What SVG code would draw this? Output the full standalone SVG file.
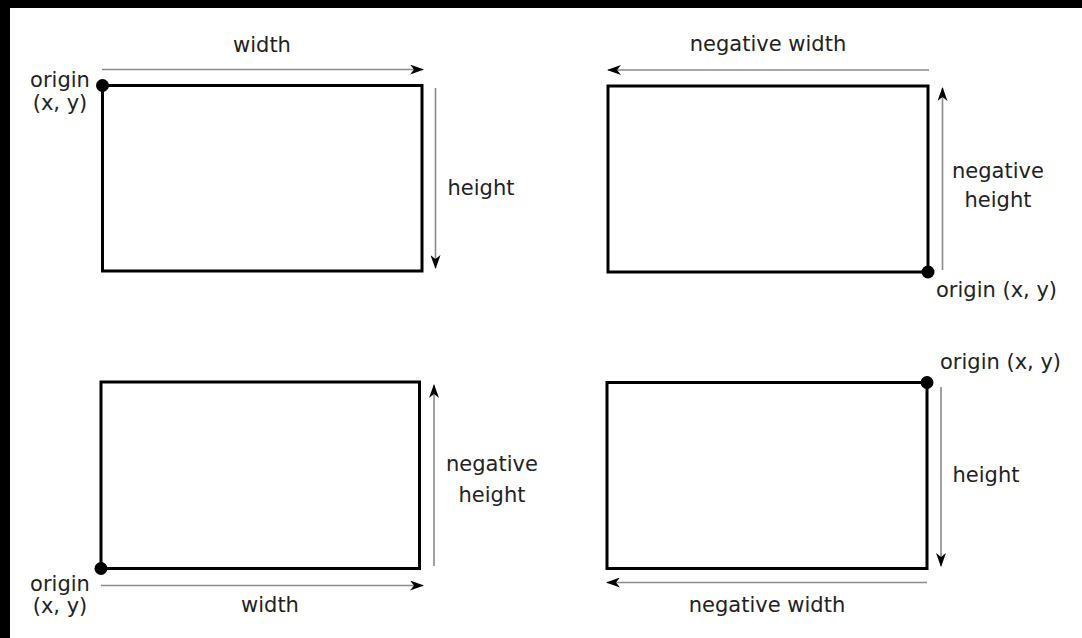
<svg xmlns="http://www.w3.org/2000/svg" width="1082" height="638" viewBox="0 0 1082 638">
  <style>
    .box { fill: none; stroke: #000; stroke-width: 3; }
    .dim { stroke: #8a8a8a; stroke-width: 1.6; fill: none; marker-end: url(#ah); }
    .dot { fill: #000; }
    text { font-family: "DejaVu Sans", "Liberation Sans", sans-serif; font-size: 21px; fill: #222; }
    .c { text-anchor: middle; }
  </style>
  <defs>
    <marker id="ah" viewBox="0 0 14 10" refX="13" refY="5" markerWidth="14" markerHeight="10" markerUnits="userSpaceOnUse" orient="auto">
      <path d="M0,0 L14,5 L0,10 L4,5 Z" fill="#000"/>
    </marker>
  </defs>
  <rect x="0" y="0" width="1082" height="638" fill="#fff"/>
  <rect x="0" y="0" width="1082" height="8" fill="#000"/>
  <rect x="0" y="0" width="10" height="638" fill="#000"/>

  <g id="connectors">
    <line class="dim" x1="102" y1="69.5" x2="423" y2="69.5"/>
    <line class="dim" x1="435.5" y1="88" x2="435.5" y2="268"/>
    <line class="dim" x1="929" y1="70" x2="608" y2="70"/>
    <line class="dim" x1="942.5" y1="270" x2="942.5" y2="88"/>
    <line class="dim" x1="101" y1="585.5" x2="423" y2="585.5"/>
    <line class="dim" x1="434" y1="566" x2="434" y2="385"/>
    <line class="dim" x1="941" y1="387" x2="941" y2="566"/>
    <line class="dim" x1="927" y1="582.5" x2="607" y2="582.5"/>
  </g>

  <g id="rect-top-left">
    <rect class="box" x="102.5" y="85.5" width="319.5" height="185.5"/>
    <circle class="dot" cx="102.5" cy="85.5" r="6.5"/>
    <text class="c" x="60" y="87">origin</text>
    <text class="c" x="60" y="110">(x, y)</text>
    <text class="c" x="262" y="52">width</text>
    <text class="c" x="481" y="195">height</text>
  </g>

  <g id="rect-top-right">
    <rect class="box" x="608" y="86" width="320" height="186"/>
    <circle class="dot" cx="928" cy="272" r="6.5"/>
    <text class="c" x="768" y="51">negative width</text>
    <text class="c" x="998" y="178">negative</text>
    <text class="c" x="998" y="207">height</text>
    <text x="936" y="297">origin (x, y)</text>
  </g>

  <g id="rect-bottom-left">
    <rect class="box" x="101" y="382" width="318.5" height="186.5"/>
    <circle class="dot" cx="101" cy="568.5" r="6.5"/>
    <text class="c" x="492" y="471">negative</text>
    <text class="c" x="492" y="502">height</text>
    <text class="c" x="60" y="591">origin</text>
    <text class="c" x="60" y="613">(x, y)</text>
    <text class="c" x="270" y="612">width</text>
  </g>

  <g id="rect-bottom-right">
    <rect class="box" x="607" y="382.5" width="320" height="186"/>
    <circle class="dot" cx="927" cy="382.5" r="6.5"/>
    <text x="940" y="369">origin (x, y)</text>
    <text class="c" x="986" y="482">height</text>
    <text class="c" x="767" y="612">negative width</text>
  </g>
</svg>
